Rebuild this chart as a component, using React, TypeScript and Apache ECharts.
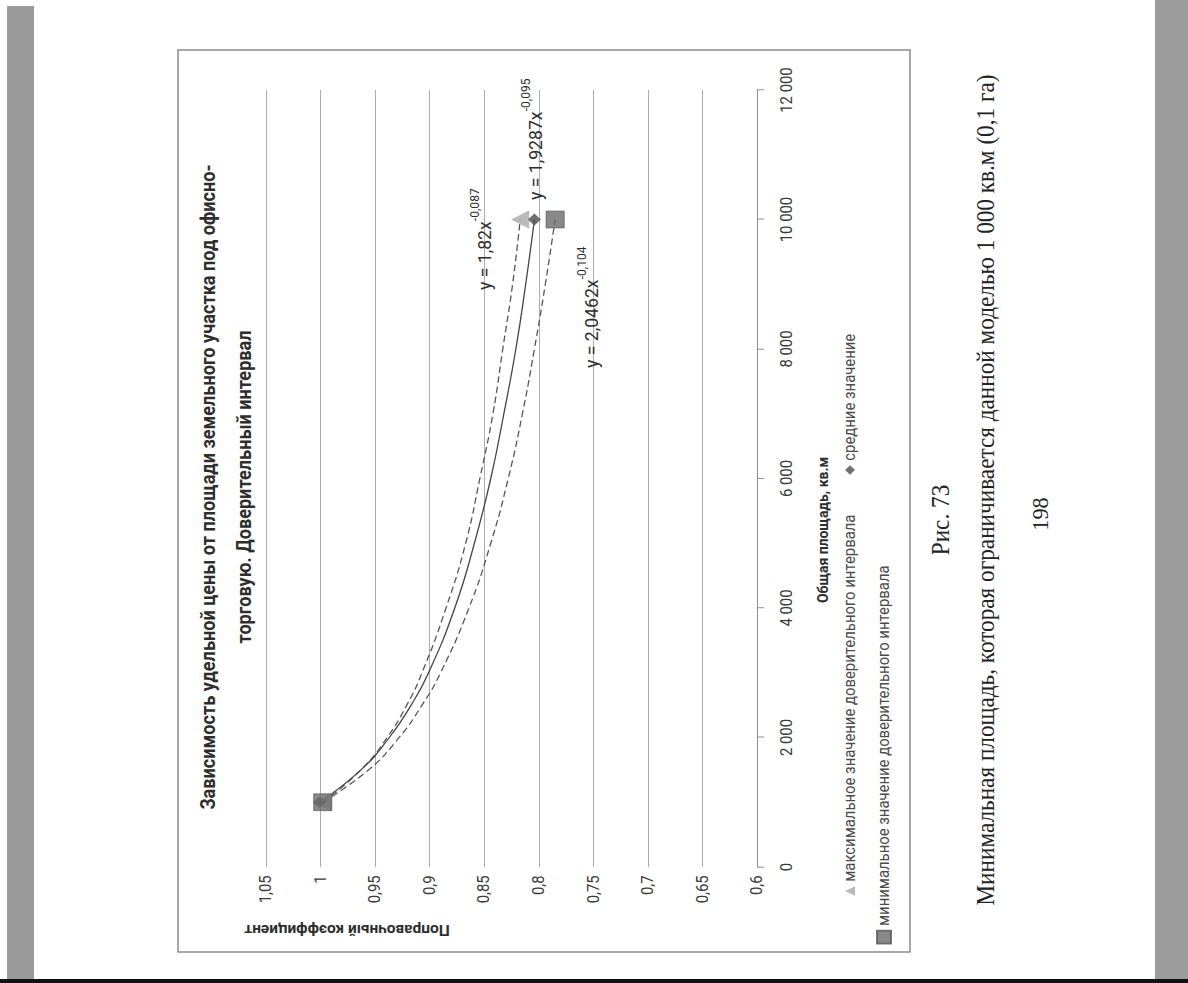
import React, { useEffect, useRef } from "react";
import * as echarts from "echarts";

// The page is laid out upright, squeezed horizontally by SQUEEZE and turned a quarter turn
// counter-clockwise, the way the printed sheet was scanned.
const SCREEN_W = 1188;
const SCREEN_H = 983;
const PAGE_W = 1057;
const PAGE_H = SCREEN_W;
const SQUEEZE = SCREEN_H / PAGE_W;

// horizontal page coordinate for a given distance up from the bottom of the scan
const px = (fromScanBottomEdge: number) => fromScanBottomEdge / SQUEEZE;
const scanY = (y: number) => px(SCREEN_H - y);

const SANS = "Roboto, 'Liberation Sans', sans-serif";
const SERIF = "'Liberation Serif', 'Times New Roman', serif";

// Trend curves (area, sq.m -> correction coefficient)
const trendArea = [1000, 1500, 2000, 2500, 3000, 4000, 5000, 6000, 7000, 8000, 9000, 10000];
const trendMax = [0.998, 0.963, 0.939, 0.921, 0.907, 0.885, 0.867, 0.854, 0.842, 0.833, 0.824, 0.817];
const trendMean = [1.001, 0.963, 0.937, 0.917, 0.901, 0.877, 0.859, 0.844, 0.832, 0.821, 0.812, 0.804];
const trendMin = [0.998, 0.956, 0.928, 0.907, 0.89, 0.864, 0.844, 0.828, 0.815, 0.804, 0.794, 0.785];

// Marked points
const pointArea = [1000, 10000];
const pointMax = [0.998, 0.817];
const pointMean = [1.001, 0.804];
const pointMin = [0.998, 0.785];

const NAME_MAX = "максимальное значение доверительного интервала";
const NAME_MEAN = "средние значение";
const NAME_MIN = "минимальное значение доверительного интервала";

const titleLines = [
  "Зависимость удельной цены от площади земельного участка под офисно-",
  "торговую. Доверительный интервал",
];
const xTitle = "Общая площадь, кв.м";
const yTitle = "Поправочный коэффициент";

const eqMax = ["y = 1,82x", "-0,087"];
const eqMean = ["y = 1,9287x", "-0,095"];
const eqMin = ["y = 2,0462x", "-0,104"];

const figCaption = "Рис. 73";
const noteText = "Минимальная площадь, которая ограничивается данной моделью 1 000 кв.м (0,1 га)";
const pageNo = "198";

const pairs = (xs: number[], ys: number[]) => xs.map((x, i) => [x, ys[i]]);

const fmtArea = (v: number) =>
  v === 0 ? "0" : String(v).replace(/\B(?=(\d{3})+(?!\d))/g, " ");
const fmtCoef = (v: number) => String(Math.round(v * 100) / 100).replace(".", ",");

const TEXT = "#2e2e2e";

const eqText = (x: number, y: number, parts: string[]) => ({
  type: "text",
  x,
  y,
  z: 10,
  style: {
    text: `{m|${parts[0]}}{s|${parts[1]}}`,
    align: "left",
    verticalAlign: "middle",
    rich: {
      m: { fontSize: 19, fontFamily: SANS, fill: TEXT, lineHeight: 26, verticalAlign: "bottom" },
      s: { fontSize: 13, fontFamily: SANS, fill: TEXT, lineHeight: 26, verticalAlign: "top" },
    },
  },
});

const trendLine = (data: number[][], dashed: boolean, color: string) => ({
  type: "line",
  data,
  smooth: true,
  symbol: "none",
  silent: true,
  z: 2,
  lineStyle: { color, width: 1.3, type: dashed ? [7, 4] : "solid" },
});

const legendBase = {
  orient: "horizontal",
  padding: 0,
  selectedMode: false,
  textStyle: { fontSize: 16, color: "#4a4a4a", fontFamily: SANS },
};

const plainText = (x: number, y: number, text: string, extra: any = {}) => ({
  type: "text",
  x,
  y,
  z: 10,
  style: {
    text,
    align: "center",
    verticalAlign: "middle",
    fontFamily: SANS,
    fill: TEXT,
    ...extra,
  },
});

const option: any = {
  animation: false,
  backgroundColor: "#ffffff",
  grid: {
    left: scanY(867),
    right: PAGE_W - scanY(90),
    top: 266,
    bottom: PAGE_H - 757,
    containLabel: false,
  },
  xAxis: {
    type: "value",
    min: 0,
    max: 12000,
    interval: 2000,
    axisLine: { show: true, lineStyle: { color: "#8c8c8c", width: 1 } },
    axisTick: { show: true, length: 7, lineStyle: { color: "#8c8c8c" } },
    axisLabel: { margin: 22, fontSize: 16, color: "#3a3a3a", fontFamily: SANS, formatter: fmtArea },
    splitLine: { show: false },
  },
  yAxis: {
    type: "value",
    min: 0.6,
    max: 1.05,
    interval: 0.05,
    axisLine: { show: false },
    axisTick: { show: false },
    axisLabel: { margin: 9, fontSize: 16, color: "#3a3a3a", fontFamily: SANS, formatter: fmtCoef },
    splitLine: { show: true, lineStyle: { color: "#a9a9a9", width: 1 } },
  },
  legend: [
    { ...legendBase, data: [NAME_MAX], left: scanY(891) - 5, top: 842, itemWidth: 10, itemHeight: 10 },
    { ...legendBase, data: [NAME_MEAN], left: scanY(470) - 5, top: 842, itemWidth: 10, itemHeight: 10 },
    { ...legendBase, data: [NAME_MIN], left: scanY(938) - 7, top: 876, itemWidth: 14, itemHeight: 14 },
  ],
  series: [
    trendLine(pairs(trendArea, trendMax), true, "#555555"),
    trendLine(pairs(trendArea, trendMean), false, "#444444"),
    trendLine(pairs(trendArea, trendMin), true, "#555555"),
    {
      type: "scatter",
      name: NAME_MAX,
      data: pairs(pointArea, pointMax),
      symbol: "triangle",
      symbolSize: [20, 18],
      z: 3,
      itemStyle: { color: "#a9a9a9" },
    },
    {
      type: "scatter",
      name: NAME_MEAN,
      data: pairs(pointArea, pointMean),
      symbol: "diamond",
      symbolSize: 13,
      z: 4,
      itemStyle: { color: "#4d4d4d" },
    },
    {
      type: "scatter",
      name: NAME_MIN,
      data: pairs(pointArea, pointMin),
      symbol: "rect",
      symbolSize: 18,
      z: 5,
      itemStyle: { color: "#6b6b6b", borderColor: "#585858", borderWidth: 1 },
    },
  ],
  graphic: [
    // scanner bands and bottom edge
    { type: "rect", z: -1, shape: { x: 0, y: 7, width: scanY(6), height: 27 }, style: { fill: "#9b9b9b" } },
    {
      type: "rect",
      z: -1,
      shape: { x: scanY(980), y: 1155, width: PAGE_W - scanY(980), height: 33 },
      style: { fill: "#9c9c9c" },
    },
    { type: "rect", z: -1, shape: { x: 0, y: 0, width: scanY(979), height: PAGE_H }, style: { fill: "#111111" } },
    // chart frame
    {
      type: "rect",
      z: -1,
      shape: { x: scanY(952), y: 178, width: scanY(50) - scanY(952), height: 732 },
      style: { fill: "none", stroke: "#8a8a8a", lineWidth: 1.5 },
    },
    ...titleLines.map((t, i) =>
      plainText(scanY(487), 209 + i * 36, t, { fontSize: 19.5, fontWeight: "bold" })
    ),
    plainText(scanY(530), 823, xTitle, { fontSize: 15, fontWeight: "bold" }),
    {
      ...plainText(scanY(930), 347, yTitle, { fontSize: 15.5, fontWeight: "bold" }),
      rotation: Math.PI / 2,
    },
    eqText(scanY(290), 481, eqMax),
    eqText(scanY(200), 532, eqMean),
    eqText(scanY(368), 588, eqMin),
    plainText(scanY(520), 940, figCaption, { fontSize: 25, fontFamily: SERIF, fill: "#222" }),
    plainText(scanY(490), 985, noteText, { fontSize: 25, fontFamily: SERIF, fill: "#222" }),
    plainText(scanY(514), 1040, pageNo, { fontSize: 24, fontFamily: SERIF, fill: "#222" }),
  ],
};

export default function App() {
  const ref = useRef<HTMLDivElement>(null);
  useEffect(() => {
    if (!ref.current) return;
    const chart = echarts.init(ref.current, null, { renderer: "svg" });
    chart.setOption(option);
    return () => chart.dispose();
  }, []);
  return (
    <div
      style={{
        position: "fixed",
        left: 0,
        top: 0,
        width: SCREEN_W,
        height: SCREEN_H,
        overflow: "hidden",
        background: "#ffffff",
      }}
    >
      <div
        ref={ref}
        style={{
          position: "absolute",
          left: 0,
          top: 0,
          width: PAGE_W,
          height: PAGE_H,
          transformOrigin: "0 0",
          transform: `translateY(${SCREEN_H}px) rotate(-90deg) scaleX(${SQUEEZE})`,
        }}
      />
    </div>
  );
}
